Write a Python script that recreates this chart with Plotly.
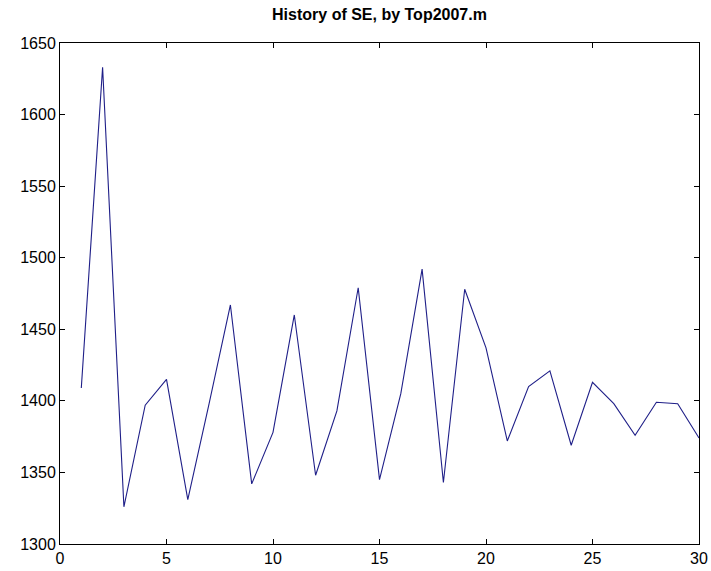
import plotly.graph_objects as go

iterations = list(range(1, 31))
se_values = [1409, 1633, 1326, 1397, 1415, 1331, 1398, 1467, 1342, 1378,
             1460, 1348, 1393, 1479, 1345, 1405, 1492, 1343, 1478, 1437,
             1372, 1410, 1421, 1369, 1413, 1398, 1376, 1399, 1398, 1374]
x_ticks = [0, 5, 10, 15, 20, 25, 30]
y_ticks = [1300, 1350, 1400, 1450, 1500, 1550, 1600, 1650]
title_text = "History of SE, by Top2007.m"

fig = go.Figure()
fig.add_trace(go.Scatter(x=iterations, y=se_values, mode="lines",
                         line=dict(color="#1f1f88", width=1.1),
                         showlegend=False, hoverinfo="x+y"))

axis_common = dict(showgrid=False, zeroline=False, showline=True, linecolor="#000000",
                   linewidth=1, mirror="ticks", ticks="inside", ticklen=5,
                   tickcolor="#000000", tickwidth=1, automargin=False,
                   tickfont=dict(family="Liberation Sans, Arial, sans-serif", size=16, color="#000000"))

fig.update_xaxes(range=[0, 30], tickvals=x_ticks, ticktext=[str(v) for v in x_ticks], **axis_common)
fig.update_yaxes(range=[1300, 1650], tickvals=y_ticks, ticktext=[str(v) for v in y_ticks], **axis_common)

fig.update_layout(
    width=711, height=571,
    margin=dict(l=60, r=12, t=43, b=27),
    paper_bgcolor="#ffffff", plot_bgcolor="#ffffff",
    title=dict(text="<b>" + title_text + "</b>", x=0.5,
               xanchor="center", xref="paper", yref="container", y=1 - 14 / 571, yanchor="middle",
               font=dict(family="Liberation Sans, Arial, sans-serif", size=16, color="#000000")),
)

fig.write_html("out.html")
